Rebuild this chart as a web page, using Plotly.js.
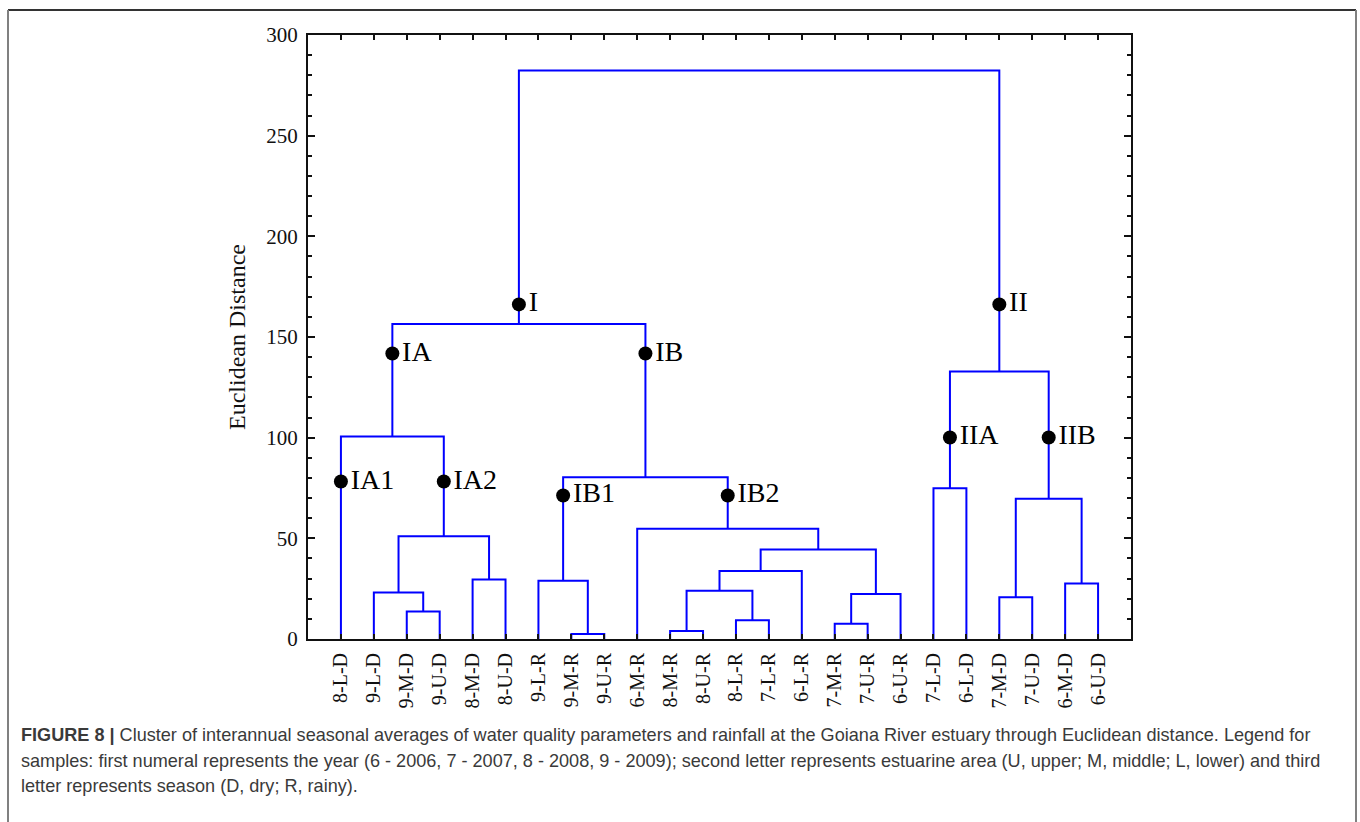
<!DOCTYPE html>
<html><head><meta charset="utf-8">
<script src="https://cdn.plot.ly/plotly-3.0.1.min.js"></script>
<style>html,body{margin:0;padding:0;background:#fff;} #chart{width:1360px;height:822px;}</style>
</head><body><div id="chart"></div>
<script>
// Leaves in dendrogram order (positions 1..24)
const leaves = ['8-L-D','9-L-D','9-M-D','9-U-D','8-M-D','8-U-D','9-L-R','9-M-R','9-U-R','6-M-R',
                '8-M-R','8-U-R','8-L-R','7-L-R','6-L-R','7-M-R','7-U-R','6-U-R','7-L-D','6-L-D',
                '7-M-D','7-U-D','6-M-D','6-U-D'];
// Linkage: cluster ids 1..24 are leaves, merge i creates cluster 25+i
const mergeLeft   = [8, 11, 16, 13, 3, 21, 27, 2, 26, 23, 7, 5, 33, 37, 32, 10, 30, 19, 35, 1, 42, 44, 46];
const mergeRight  = [9, 12, 17, 14, 4, 22, 18, 29, 28, 24, 25, 6, 15, 31, 36, 38, 34, 20, 40, 39, 41, 43, 45];
const mergeHeight = [2.5, 4.0, 7.6, 9.3, 13.7, 20.7, 22.4, 23.1, 24.0, 27.6, 28.9, 29.6, 33.8, 44.5,
                     51.0, 54.7, 69.6, 74.9, 80.3, 100.6, 132.9, 156.4, 282.4];
// Group markers
const nodeNames   = ['I', 'II', 'IA', 'IB', 'IA1', 'IA2', 'IB1', 'IB2', 'IIA', 'IIB'];
const nodeCluster = [46, 45, 44, 43, 1, 39, 35, 40, 42, 41];
const nodeHeight  = [166.2, 166.2, 141.8, 141.8, 78.2, 78.2, 71.3, 71.3, 100.1, 100.1];
const yTickVals   = [0, 50, 100, 150, 200, 250, 300];
const captionLines = [
  '<b>FIGURE 8 |</b> Cluster of interannual seasonal averages of water quality parameters and rainfall at the Goiana River estuary through Euclidean distance. Legend for',
  'samples: first numeral represents the year (6 - 2006, 7 - 2007, 8 - 2008, 9 - 2009); second letter represents estuarine area (U, upper; M, middle; L, lower) and third',
  'letter represents season (D, dry; R, rainy).'
];

// compute positions
const pos = {}, hgt = {};
leaves.forEach((l, i) => { pos[i + 1] = i + 1; hgt[i + 1] = 0; });
const lx = [], ly = [];
mergeLeft.forEach((a, i) => {
  const b = mergeRight[i], h = mergeHeight[i], id = 25 + i;
  lx.push(pos[a], pos[a], pos[b], pos[b], null);
  ly.push(hgt[a], h, h, hgt[b], null);
  pos[id] = (pos[a] + pos[b]) / 2; hgt[id] = h;
});

const L = 308, T = 35, W = 823, H = 604;
const px = v => (v - L) / W;
const py = v => 1 - (v - T) / H;

const traces = [
  {x: lx, y: ly, mode: 'lines', type: 'scatter', line: {color: '#0000ff', width: 2}, hoverinfo: 'skip', cliponaxis: false},
  {x: nodeCluster.map(c => pos[c]), y: nodeHeight, text: nodeNames, mode: 'markers+text', type: 'scatter',
   textposition: 'middle right', marker: {color: '#000', size: 14},
   textfont: {family: 'Liberation Serif', size: 28, color: '#000'}, cliponaxis: false}
];

const annotations = captionLines.map((t, i) => ({
  xref: 'paper', yref: 'paper', x: px(19), y: py(735 + i * 25.5), xanchor: 'left', yanchor: 'middle',
  text: t, showarrow: false, font: {family: 'Liberation Sans', size: 18.1, color: '#3a3a3a'}
}));

const shapes = [
  {type: 'line', xref: 'paper', yref: 'paper', x0: px(8), x1: px(1356), y0: py(10), y1: py(10), line: {color: '#333', width: 2}},
  {type: 'line', xref: 'paper', yref: 'paper', x0: px(8), x1: px(8), y0: py(10), y1: py(830), line: {color: '#808080', width: 2}},
  {type: 'line', xref: 'paper', yref: 'paper', x0: px(1356), x1: px(1356), y0: py(10), y1: py(830), line: {color: '#808080', width: 2}}
];

const layout = {
  width: 1360, height: 822, showlegend: false,
  paper_bgcolor: '#fff', plot_bgcolor: '#fff',
  margin: {l: L, r: 1360 - L - W, t: T, b: 822 - T - H, pad: 0},
  xaxis: {range: [0, 25], tickmode: 'array', tickvals: leaves.map((l, i) => i + 1), ticktext: leaves,
          tickangle: -90, ticks: 'inside', ticklen: 5, tickwidth: 2, tickcolor: '#111',
          showline: true, linewidth: 2, linecolor: '#111', mirror: 'allticks', showgrid: false, zeroline: false,
          tickfont: {family: 'Liberation Serif', size: 20, color: '#111'}, ticklabelstandoff: 4},
  yaxis: {range: [0, 300], tickmode: 'array', tickvals: yTickVals, ticks: 'inside', ticklen: 7, tickwidth: 2, tickcolor: '#111',
          minor: {tickmode: 'linear', tick0: 0, dtick: 10, ticks: 'inside', ticklen: 4, tickwidth: 2, tickcolor: '#111'},
          showline: true, linewidth: 2, linecolor: '#111', mirror: 'allticks', showgrid: false, zeroline: false,
          tickfont: {family: 'Liberation Serif', size: 21, color: '#111'}, ticklabelstandoff: 4,
          title: {text: 'Euclidean Distance', font: {family: 'Liberation Serif', size: 24, color: '#111'}, standoff: 14}},
  annotations: annotations,
  shapes: shapes
};

Plotly.newPlot('chart', traces, layout, {displayModeBar: false, staticPlot: true});
</script>
</body></html>
